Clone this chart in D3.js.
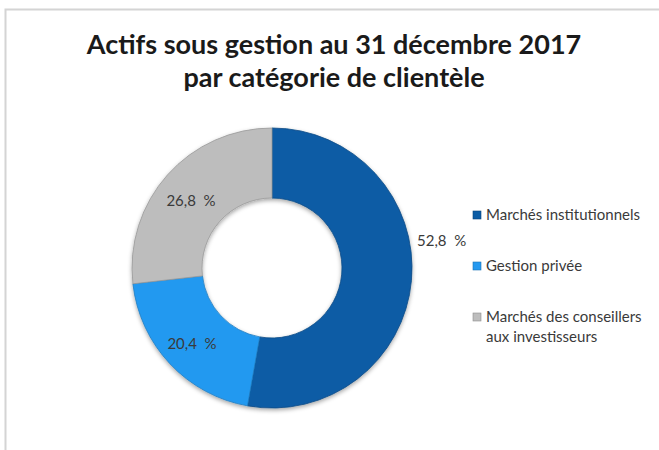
<!DOCTYPE html>
<html>
<head>
<meta charset="utf-8">
<script src="https://cdn.jsdelivr.net/npm/d3@7"></script>
<style>
  body { margin: 0; background: #fff; }
  svg { display: block; font-family: Lato, "Open Sans", sans-serif; }
</style>
</head>
<body>
<div id="chart"></div>
<script>
// chart data
const categories = ["Marchés institutionnels", "Gestion privée", "Marchés des conseillers aux investisseurs"];
const values = [52.8, 20.4, 26.8];
const valueLabels = ["52,8\u00a0\u00a0%", "20,4\u00a0\u00a0%", "26,8\u00a0\u00a0%"];
const legendLines = [["Marchés institutionnels"], ["Gestion privée"], ["Marchés des conseillers", "aux investisseurs"]];
const titleLines = ["Actifs sous gestion au 31 décembre 2017", "par catégorie de clientèle"];

const width = 659;
const height = 450;
const cx = 272, cy = 268;
const outerR = 140, innerR = 70;

const data = categories.map((c, i) => ({label: c, value: values[i], text: valueLabels[i]}));

const colors = d3.scaleOrdinal()
  .domain(categories)
  .range(["#0b5ca5", "#2499f0", "#bdbdbd"]);

const svg = d3.select("#chart")
  .append("svg")
  .attr("width", width)
  .attr("height", height);

// shadow under the ring
const defs = svg.append("defs");
const f = defs.append("filter").attr("id", "shadow")
  .attr("x", "-20%").attr("y", "-20%").attr("width", "140%").attr("height", "140%");
f.append("feDropShadow")
  .attr("dx", 0).attr("dy", 2).attr("stdDeviation", 2)
  .attr("flood-color", "#000").attr("flood-opacity", 0.35);

// frame
svg.append("rect")
  .attr("x", 5.5).attr("y", 9.5)
  .attr("width", 700).attr("height", 500)
  .attr("fill", "#fff")
  .attr("stroke", "#d4d4d4")
  .attr("stroke-width", 2);

// title
svg.append("g")
  .selectAll("text")
  .data(titleLines)
  .enter()
  .append("text")
  .attr("x", 334)
  .attr("y", (d, i) => 54 + i * 33)
  .attr("text-anchor", "middle")
  .attr("font-weight", "bold")
  .attr("fill", "#1a1a1a")
  .style("font-size", "27px")
  .text(d => d);

const pie = d3.pie()
  .sort(null)
  .value(d => d.value);

const arc = d3.arc()
  .innerRadius(innerR)
  .outerRadius(outerR);

const g = svg.append("g")
  .attr("transform", "translate(" + cx + "," + cy + ")");

g.append("g")
  .attr("filter", "url(#shadow)")
  .selectAll("path")
  .data(pie(data))
  .enter()
  .append("path")
  .attr("d", arc)
  .attr("fill", d => colors(d.data.label))
  .attr("stroke", d => d3.color(colors(d.data.label)).darker(0.6))
  .attr("stroke-width", 0.8);

// data labels
const labelPos = [[145, -27], [-80, 76], [-81, -67]];
g.selectAll("text.lbl")
  .data(pie(data))
  .enter()
  .append("text")
  .attr("class", "lbl")
  .attr("x", (d, i) => labelPos[i][0])
  .attr("y", (d, i) => labelPos[i][1])
  .attr("text-anchor", (d, i) => i === 0 ? "start" : "middle")
  .attr("dy", "0.35em")
  .attr("fill", "#3a3a3a")
  .style("font-size", "15px")
  .text(d => d.data.text);

// legend
const legendY = d3.scalePoint()
  .domain(categories)
  .range([215, 317]);

const legend = svg.append("g");
const item = legend.selectAll("g")
  .data(categories)
  .enter()
  .append("g")
  .attr("transform", d => "translate(473," + legendY(d) + ")");

item.append("rect")
  .attr("x", 0).attr("y", -4)
  .attr("width", 8).attr("height", 8)
  .attr("fill", d => colors(d))
  .attr("stroke", d => d3.color(colors(d)).darker(0.8))
  .attr("stroke-width", 0.6);

item.each(function(d, i) {
  d3.select(this).selectAll("text")
    .data(legendLines[i])
    .enter()
    .append("text")
    .attr("x", 13)
    .attr("y", (t, j) => j * 20)
    .attr("dy", "0.35em")
    .attr("fill", "#3a3a3a")
    .style("font-size", "15px")
    .text(t => t);
});
</script>
</body>
</html>
